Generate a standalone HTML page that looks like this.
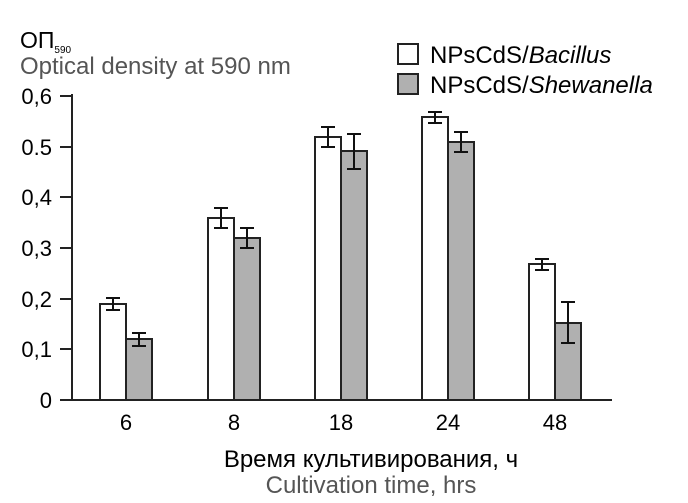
<!DOCTYPE html><html><head><style>body{margin:0;background:#fff}svg{display:block}</style></head><body>
<svg width="688" height="503" xmlns="http://www.w3.org/2000/svg" font-family="Liberation Sans, sans-serif">
<text x="20" y="48" font-size="23" fill="#000">ОП<tspan font-size="10" dy="5">590</tspan></text>
<text x="20" y="74" font-size="24" fill="#555">Optical density at 590 nm</text>
<g stroke="#222" stroke-width="2" fill="none">
<line x1="72" y1="94" x2="72" y2="400"/><line x1="60" y1="400" x2="612" y2="400"/>
<line x1="60" y1="96" x2="72" y2="96"/><line x1="60" y1="147" x2="72" y2="147"/><line x1="60" y1="197" x2="72" y2="197"/><line x1="60" y1="248" x2="72" y2="248"/><line x1="60" y1="299" x2="72" y2="299"/><line x1="60" y1="349" x2="72" y2="349"/>
</g>
<g font-size="22" text-anchor="end" fill="#000">
<text x="52" y="104">0,6</text><text x="52" y="155">0.5</text><text x="52" y="205">0,4</text><text x="52" y="256">0,3</text><text x="52" y="307">0,2</text><text x="52" y="357">0,1</text><text x="52" y="408">0</text>
</g>
<g font-size="22" text-anchor="middle"><text x="126" y="430">6</text><text x="234" y="430">8</text><text x="341" y="430">18</text><text x="448" y="430">24</text><text x="555" y="430">48</text></g>
<g stroke="#222" stroke-width="2">
<rect x="100" y="304" width="26" height="96" fill="#fff"/><rect x="126" y="339" width="26" height="61" fill="#b0b0b0"/>
<rect x="208" y="218" width="26" height="182" fill="#fff"/><rect x="234" y="238" width="26" height="162" fill="#b0b0b0"/>
<rect x="315" y="137" width="26" height="263" fill="#fff"/><rect x="341" y="151" width="26" height="249" fill="#b0b0b0"/>
<rect x="422" y="117" width="26" height="283" fill="#fff"/><rect x="448" y="142" width="26" height="258" fill="#b0b0b0"/>
<rect x="529" y="264" width="26" height="136" fill="#fff"/><rect x="555" y="323" width="26" height="77" fill="#b0b0b0"/>
</g>
<g stroke="#111" stroke-width="2" fill="none">
<path d="M113 298V310M106 298H120M106 310H120"/>
<path d="M139 333V346M132 333H146M132 346H146"/>
<path d="M221 208V228M214 208H228M214 228H228"/>
<path d="M247 228V248M240 228H254M240 248H254"/>
<path d="M328 127V147M321 127H335M321 147H335"/>
<path d="M354 134V169M347 134H361M347 169H361"/>
<path d="M435 112V123M428 112H442M428 123H442"/>
<path d="M461 132V152M454 132H468M454 152H468"/>
<path d="M542 259V270M535 259H549M535 270H549"/>
<path d="M568 302V343M561 302H575M561 343H575"/>
</g>
<rect x="398" y="44" width="20" height="20" fill="#fff" stroke="#222" stroke-width="2"/>
<rect x="398" y="74" width="20" height="20" fill="#b0b0b0" stroke="#222" stroke-width="2"/>
<text x="430" y="63" font-size="24">NPsCdS/<tspan font-style="italic">Bacillus</tspan></text>
<text x="430" y="93" font-size="24">NPsCdS/<tspan font-style="italic">Shewanella</tspan></text>
<text x="371" y="467" font-size="24" text-anchor="middle">Время культивирования, ч</text>
<text x="371" y="493" font-size="24" text-anchor="middle" fill="#555">Cultivation time, hrs</text>
</svg></body></html>
